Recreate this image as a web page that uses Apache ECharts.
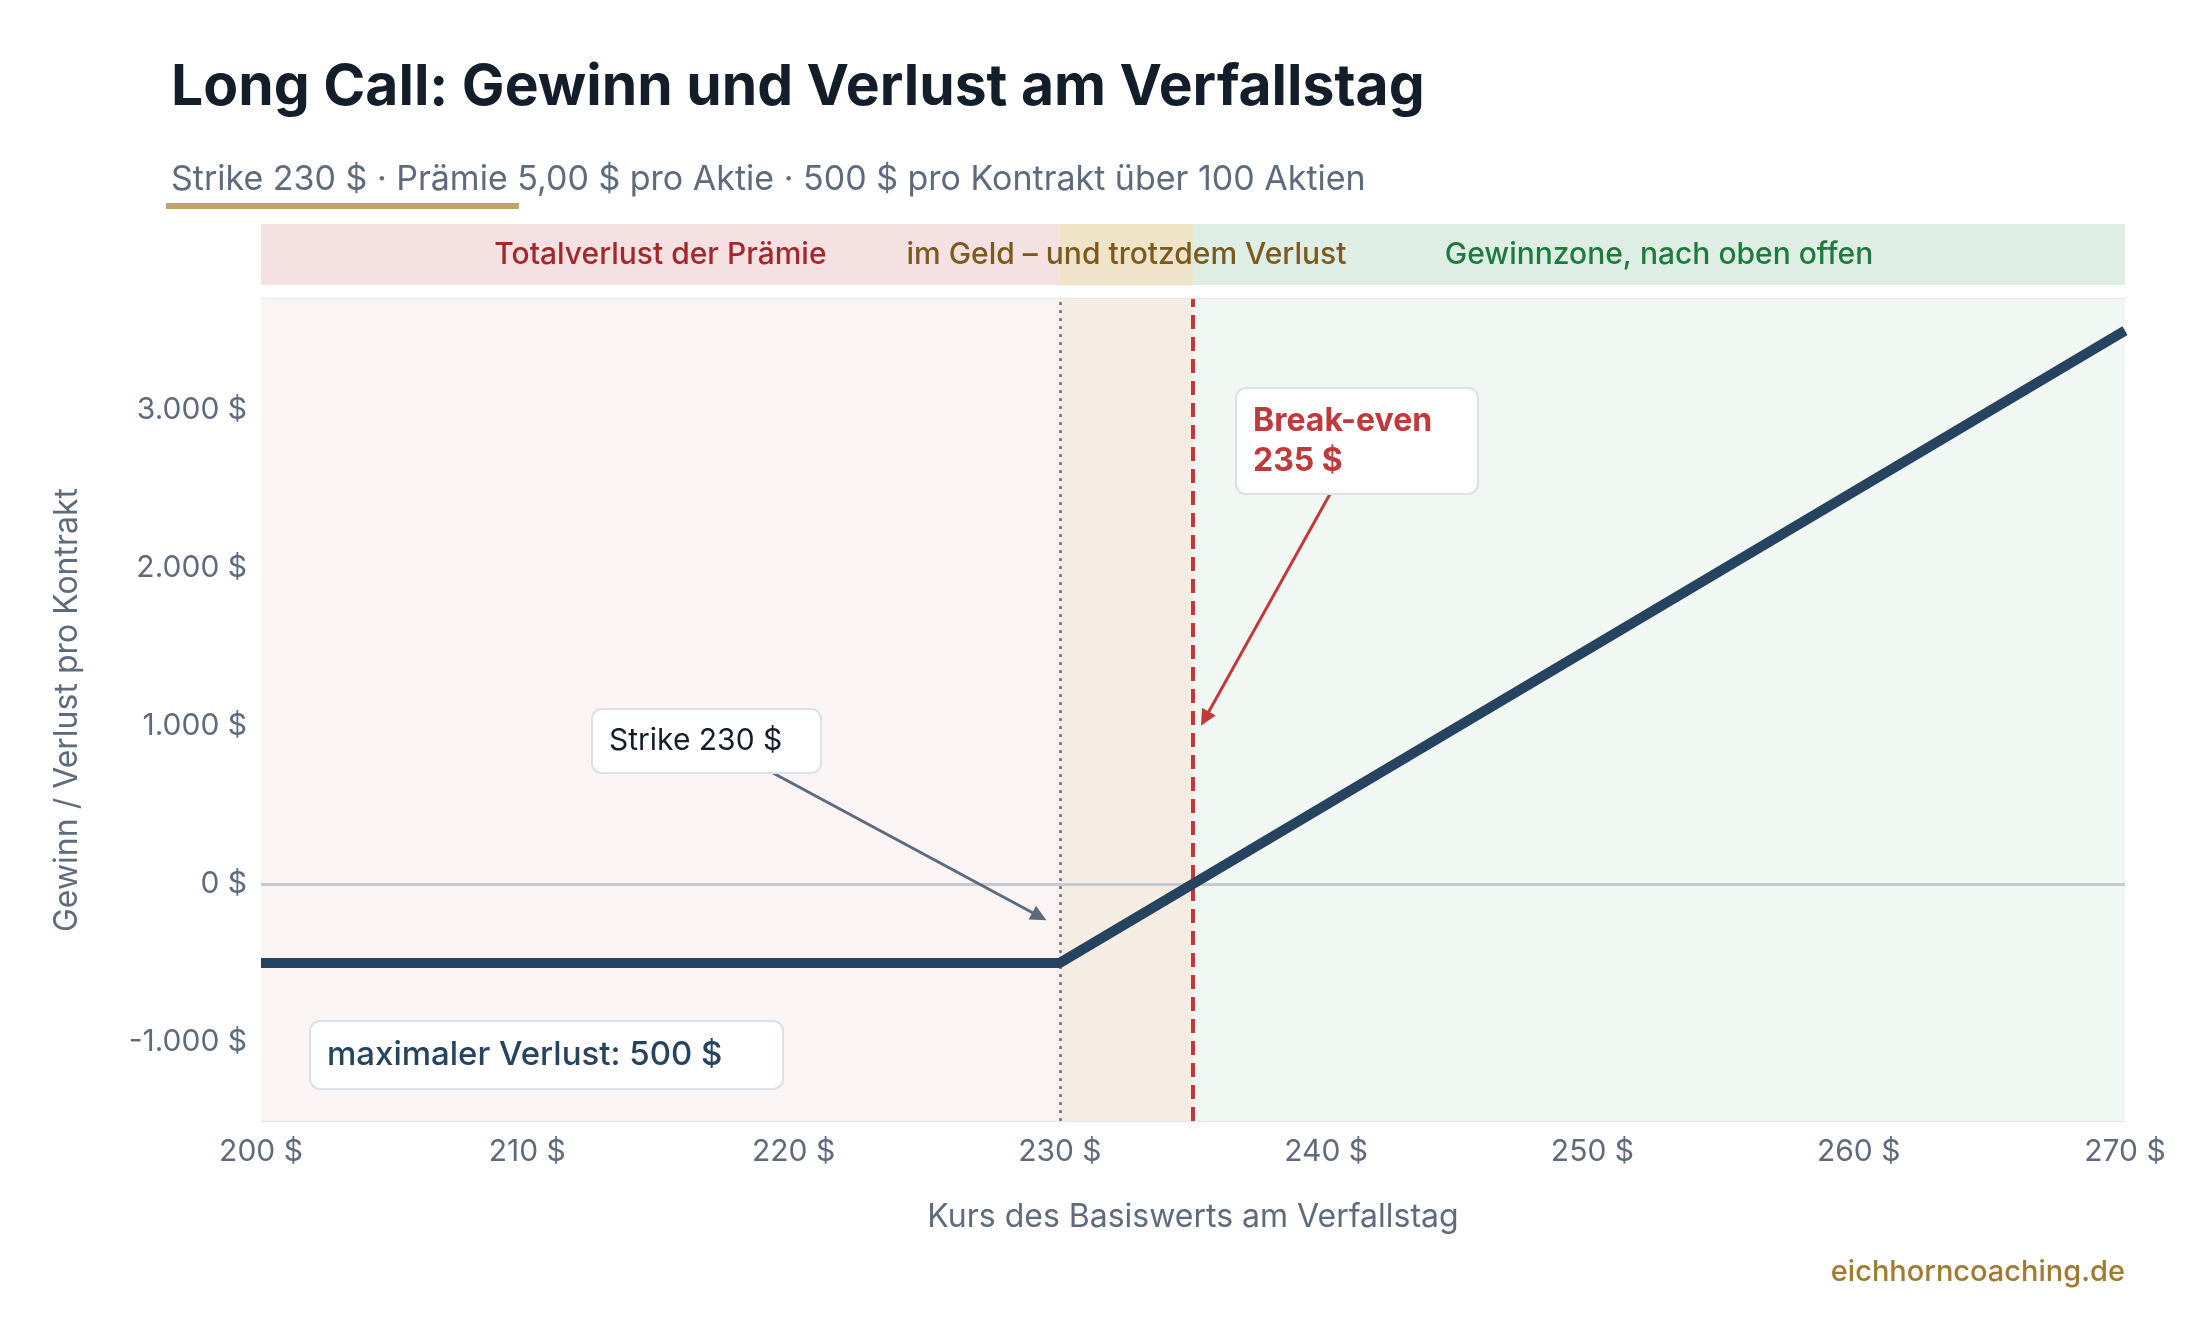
<!DOCTYPE html>
<html><head><meta charset="utf-8">
<script src="https://cdn.jsdelivr.net/npm/echarts@6/dist/echarts.min.js"></script>
<style>html,body{margin:0;background:#fff}#c{width:2200px;height:1320px}</style>
</head><body><div id="c"></div>
<script>
// Kurs / Gewinn-Verlust Punkte (Knickpunkte der Auszahlung)
var kurs = [200, 230, 270];
var gewinn = [-500, -500, 3500];
var strike = 230;
var breakEven = 235;
var zonen = [
  {von: 200, bis: 230, name: 'Totalverlust der Prämie'},
  {von: 230, bis: 235, name: 'im Geld – und trotzdem Verlust'},
  {von: 235, bis: 270, name: 'Gewinnzone, nach oben offen'}
];
var F = 'Inter, "Noto Sans", sans-serif';
var grau = '#5f6b7c';

var chart = echarts.init(document.getElementById('c'));
function fmt(v){ return v.toLocaleString('de-DE') + ' $'; }

var bandFarben = ['#f5e1e1', '#efe3c8', '#dfeee4'];
var bandText = ['#a3282d', '#7a5a1e', '#1f7a3e'];
var flaeche = ['#faf4f4', '#f5ede4', '#f1f7f2'];

var option = {
  backgroundColor: '#fff',
  animation: false,
  title: [
    {text: 'Long Call: Gewinn und Verlust am Verfallstag', left: 166, top: 54,
     textStyle: {fontFamily: F, fontSize: 57, fontWeight: 700, color: '#141e2b'}},
    {text: 'Strike 230 $ · Prämie 5,00 $ pro Aktie · 500 $ pro Kontrakt über 100 Aktien', left: 166, top: 158,
     textStyle: {fontFamily: F, fontSize: 34, fontWeight: 400, color: grau}}
  ],
  grid: [
    {left: 261, right: 75, top: 299, height: 822},
    {left: 261, right: 75, top: 224, height: 61}
  ],
  xAxis: [
    {type: 'value', gridIndex: 0, min: 200, max: 270, interval: 10,
     name: 'Kurs des Basiswerts am Verfallstag', nameLocation: 'middle', nameGap: 80,
     nameTextStyle: {fontFamily: F, fontSize: 32, color: grau},
     axisLine: {show: false}, axisTick: {show: false}, splitLine: {show: false},
     axisLabel: {fontFamily: F, fontSize: 30, color: grau, margin: 16, formatter: function(v){return v + ' $';}}},
    {type: 'value', gridIndex: 1, min: 200, max: 270, show: false}
  ],
  yAxis: [
    {type: 'value', gridIndex: 0, min: -1500, max: 3700, splitNumber: 5,
     name: 'Gewinn / Verlust pro Kontrakt', nameLocation: 'middle', nameGap: 178,
     nameTextStyle: {fontFamily: F, fontSize: 32, color: grau},
     axisLine: {show: false}, axisTick: {show: false},
     splitLine: {lineStyle: {color: '#e3e6ec', width: 2}},
     axisLabel: {fontFamily: F, fontSize: 30, color: grau, margin: 14,
       formatter: function(v){ return v % 1000 === 0 ? fmt(v) : ''; }}},
    {type: 'value', gridIndex: 1, min: 0, max: 1, show: false}
  ],
  series: [
    {type: 'line', xAxisIndex: 1, yAxisIndex: 1, data: [], silent: true,
     markArea: {silent: true, data: zonen.map(function(z, i){
       return [{xAxis: z.von, itemStyle: {color: bandFarben[i]},
                label: {show: true, position: 'inside', formatter: z.name, fontFamily: F, fontSize: 30, fontWeight: 500, color: bandText[i]}},
               {xAxis: z.bis}];
     })}},
    {type: 'line', data: kurs.map(function(k, i){ return [k, gewinn[i]]; }),
     symbol: 'none', z: 5, lineStyle: {color: '#26435f', width: 10},
     markArea: {silent: true, data: zonen.map(function(z, i){
       return [{xAxis: z.von, itemStyle: {color: flaeche[i]}}, {xAxis: z.bis}];
     })},
     markLine: {silent: true, symbol: 'none', label: {show: false}, data: [
       {yAxis: 0, lineStyle: {color: '#c6c9d0', width: 3, type: 'solid'}},
       {xAxis: strike, lineStyle: {color: '#6b7280', width: 2.5, type: [3, 5]}},
       {xAxis: breakEven, lineStyle: {color: '#c0393b', width: 4, type: [14, 8]}}
     ]}}
  ]
};
chart.setOption(option);

var p1 = chart.convertToPixel({gridIndex: 0}, [229.5, -230]);
var p2 = chart.convertToPixel({gridIndex: 0}, [235.3, 1000]);
function box(x, y, w, h, txt, style){
  return [
    {type: 'rect', z: 20, shape: {x: x, y: y, width: w, height: h, r: 10},
     style: {fill: '#fff', stroke: '#dde0e6', lineWidth: 2}},
    {type: 'text', z: 21, x: x + 17, y: y + h / 2,
     style: Object.assign({text: txt, font: style.font, fill: style.fill, verticalAlign: 'middle', lineHeight: style.lineHeight})}
  ];
}
function pfeil(x1, y1, x2, y2, col){
  var a = Math.atan2(y2 - y1, x2 - x1), L = 18, s = 0.45;
  return [
    {type: 'line', z: 19, shape: {x1: x1, y1: y1, x2: x2 - Math.cos(a) * 10, y2: y2 - Math.sin(a) * 10}, style: {stroke: col, lineWidth: 3}},
    {type: 'polygon', z: 19, shape: {points: [[x2, y2],
      [x2 - L * Math.cos(a - s), y2 - L * Math.sin(a - s)],
      [x2 - L * Math.cos(a + s), y2 - L * Math.sin(a + s)]]}, style: {fill: col}}
  ];
}
var g = [
  {type: 'rect', shape: {x: 166, y: 203, width: 353, height: 6}, style: {fill: '#c4a265'}},
  {type: 'text', right: 75, top: 1258, style: {text: 'eichhorncoaching.de', font: '500 29px ' + F, fill: '#a07a2e'}}
];
g = g.concat(box(1236, 388, 242, 106, 'Break-even\n235 $', {font: '700 32px ' + F, fill: '#c0393b', lineHeight: 40}))
     .concat(box(592, 709, 229, 64, 'Strike 230 $', {font: '400 30px ' + F, fill: '#141e2b'}))
     .concat(box(310, 1021, 473, 68, 'maximaler Verlust: 500 $', {font: '500 33px ' + F, fill: '#26435f'}))
     .concat(pfeil(773, 773, p1[0], p1[1], '#5f6b7c'))
     .concat(pfeil(1330, 494, p2[0], p2[1], '#c0393b'));
chart.setOption({graphic: g});
</script></body></html>
